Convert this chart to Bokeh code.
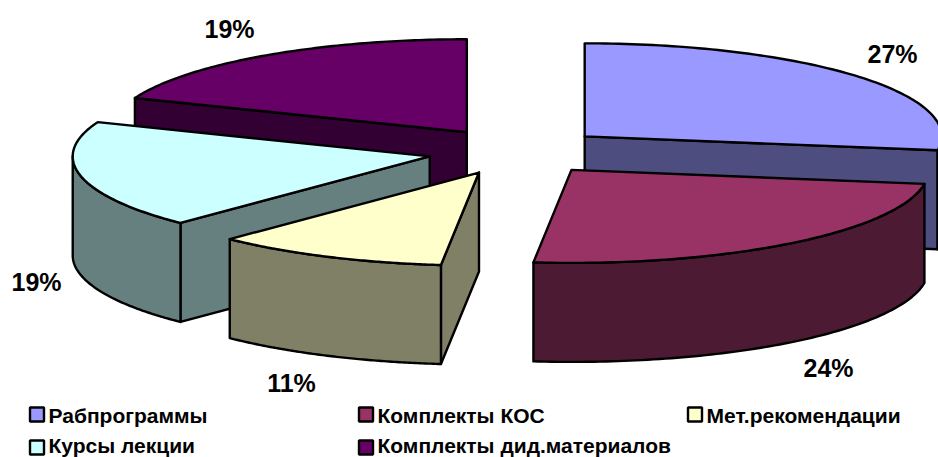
import math
from bokeh.plotting import figure
from bokeh.embed import file_html
from bokeh.resources import INLINE
from bokeh.core.properties import value

categories = ["Рабпрограммы", "Комплекты КОС", "Мет.рекомендации", "Курсы лекции", "Комплекты дид.материалов"]
values = [27.4, 24.3, 10.6, 18.7, 19.0]
top_colors = ["#9999FF", "#993366", "#FFFFCC", "#CCFFFF", "#660066"]
side_colors = ["#4D4D80", "#4D1A33", "#808066", "#668080", "#330033"]

# page layout, in pixels of the 938x457 window
CX, CY = 516.5, 151.0
RX, RY = 357.0, 93.0
DEPTH = 99.0
EXPLODE = 0.25
FONT = "Liberation Sans"
label_pos = [(892, 53), (828, 367), (291, 382), (36, 281), (229, 28)]
legend_col = [29, 358, 687]
legend_text_mid = [415, 445]
legend_box_mid = [414, 447]
SW = 14

p = figure(width=938, height=457, x_range=(0, 938), y_range=(457, 0),
           output_backend="svg", toolbar_location=None, min_border=0,
           outline_line_color=None, background_fill_color="white")
p.axis.visible = False
p.grid.visible = False


def pt(cx, cy, a):
    return cx + RX * math.sin(a), cy - RY * math.cos(a)


def arc(cx, cy, a0, a1, n=90):
    return [pt(cx, cy, a0 + (a1 - a0) * i / n) for i in range(n + 1)]


def shape(points, fill):
    p.patch([q[0] for q in points], [q[1] for q in points], fill_color=fill,
            line_color="black", line_width=2.4, line_join="round")


total = sum(values)
angles = [0.0]
for v in values:
    angles.append(angles[-1] + v / total * 2 * math.pi)

slices = []
for i in range(len(values)):
    a0, a1 = angles[i], angles[i + 1]
    mid = (a0 + a1) / 2
    cx = CX + RX * EXPLODE * math.sin(mid)
    cy = CY - RY * EXPLODE * math.cos(mid)
    slices.append((cy, i, cx, a0, a1))

for cy, i, cx, a0, a1 in sorted(slices):
    for edge, show in ((a0, a0 > math.pi), (a1, a1 < math.pi)):
        if show:
            ex, ey = pt(cx, cy, edge)
            shape([(cx, cy), (ex, ey), (ex, ey + DEPTH), (cx, cy + DEPTH)], side_colors[i])
    # visible part of the rim: the front half of the ellipse
    lo, hi = max(a0, math.pi / 2), min(a1, 3 * math.pi / 2)
    if lo < hi:
        rim = arc(cx, cy, lo, hi)
        shape(rim + [(q[0], q[1] + DEPTH) for q in reversed(rim)], side_colors[i])
    shape([(cx, cy)] + arc(cx, cy, a0, a1), top_colors[i])

for (x, y), v in zip(label_pos, values):
    p.text([x], [y], text=[f"{round(v)}%"], text_font=value(FONT), text_font_style="bold",
           text_font_size="25px", text_color="black", text_align="center", text_baseline="middle")

for i, (name, color) in enumerate(zip(categories, top_colors)):
    x = legend_col[i % 3]
    row = i // 3
    p.rect([x + SW / 2 + 0.5], [legend_box_mid[row]], width=SW, height=SW, fill_color=color,
           line_color="black", line_width=2.4)
    p.text([x + 19], [legend_text_mid[row]], text=[name], text_font=value(FONT), text_font_style="bold",
           text_font_size="21px", text_color="black", text_align="left", text_baseline="middle")

open("out.html", "w").write(file_html(p, INLINE))
